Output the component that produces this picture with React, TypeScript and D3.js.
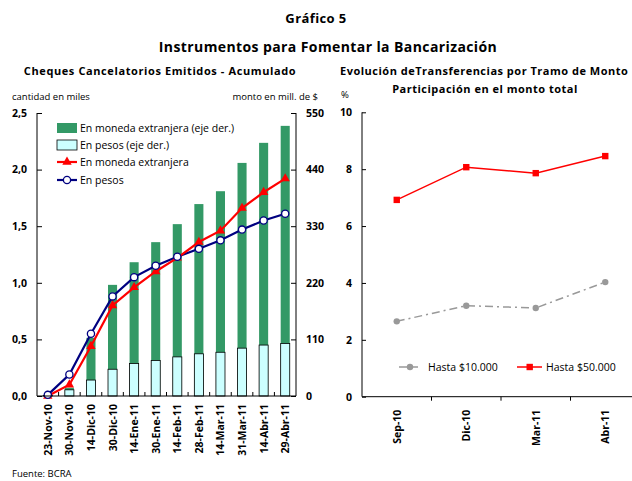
import React, { useEffect, useRef } from 'react';
import * as d3 from 'd3';

// Left panel: cheques cancelatorios (acumulado)
const fechas = ['23-Nov-10', '30-Nov-10', '14-Dic-10', '30-Dic-10', '14-Ene-11', '30-Ene-11',
  '14-Feb-11', '28-Feb-11', '14-Mar-11', '31-Mar-11', '14-Abr-11', '29-Abr-11'];
const montoExtranjera = [2, 16, 113, 216, 260, 299, 334, 373, 398, 453, 492, 525];
const montoPesos = [1, 12, 31, 52, 63, 69, 76, 82, 85, 93, 99, 102];
const cantExtranjera = [0, 0.10, 0.44, 0.80, 0.96, 1.10, 1.22, 1.36, 1.46, 1.66, 1.80, 1.92];
const cantPesos = [0.01, 0.19, 0.55, 0.88, 1.05, 1.15, 1.23, 1.30, 1.375, 1.47, 1.55, 1.61];
const leftTicks = [0, 0.5, 1, 1.5, 2, 2.5];
const rightTicks = [0, 110, 220, 330, 440, 550];

// Right panel: transferencias por tramo
const meses = ['Sep-10', 'Dic-10', 'Mar-11', 'Abr-11'];
const hasta10000 = [2.65, 3.2, 3.12, 4.03];
const hasta50000 = [6.92, 8.07, 7.86, 8.46];
const pctTicks = [0, 2, 4, 6, 8, 10];

const FONT = '"Open Sans", Lato, sans-serif';

const App: React.FC = () => {
  const svgRef = useRef<SVGSVGElement>(null);

  useEffect(() => {
    if (!svgRef.current) return;
    const svg = d3.select(svgRef.current);
    svg.selectAll('*').remove();
    svg.style('font-family', FONT);

    const txt = (x: number, y: number, s: string, size: number, weight = 'normal', anchor = 'start', ls = 0) =>
      svg.append('text').attr('x', x).attr('y', y).attr('font-size', size)
        .attr('font-weight', weight).attr('text-anchor', anchor).attr('fill', '#000')
        .attr('letter-spacing', ls).text(s);

    // Titles
    txt(316, 23, 'Gráfico 5', 13, 'bold', 'middle', 0.4);
    txt(328, 52, 'Instrumentos para Fomentar la Bancarización', 14, 'bold', 'middle', 0.4);
    txt(160, 75, 'Cheques Cancelatorios Emitidos - Acumulado', 11, 'bold', 'middle', 0.6);
    txt(340, 75, 'Evolución deTransferencias por Tramo de Monto', 11, 'bold', 'start', 0.5);
    txt(485, 93, 'Participación en el monto total', 11, 'bold', 'middle', 0.5);
    txt(12, 100, 'cantidad en miles', 9.5, 'normal', 'start');
    txt(318, 100, 'monto en mill. de $', 9.5, 'normal', 'end');
    txt(12, 477, 'Fuente: BCRA', 9.5, 'normal', 'start');

    // ---------- Left chart ----------
    const L = { left: 37, right: 296, top: 113, bottom: 396 };
    const x = d3.scaleBand<string>().domain(fechas).range([L.left, L.right])
      .paddingInner(0.58).paddingOuter(0.29);
    const yL = d3.scaleLinear().domain([0, 2.5]).range([L.bottom, L.top]);
    const yR = d3.scaleLinear().domain([0, 550]).range([L.bottom, L.top]);
    const cx = (d: string) => (x(d) || 0) + x.bandwidth() / 2;

    const gl = svg.append('g');
    gl.selectAll('.bar-ext').data(fechas).enter().append('rect')
      .attr('x', d => x(d) || 0).attr('width', x.bandwidth())
      .attr('y', (d, i) => yR(montoExtranjera[i]))
      .attr('height', (d, i) => L.bottom - yR(montoExtranjera[i]))
      .attr('fill', '#339966');
    gl.selectAll('.bar-pes').data(fechas).enter().append('rect')
      .attr('x', d => x(d) || 0).attr('width', x.bandwidth())
      .attr('y', (d, i) => yR(montoPesos[i]))
      .attr('height', (d, i) => L.bottom - yR(montoPesos[i]))
      .attr('fill', '#ccffff').attr('stroke', '#000').attr('stroke-width', 0.8);

    const lineL = (vals: number[]) => d3.line<string>().x(d => cx(d)).y((d, i) => yL(vals[i]))(fechas);
    gl.append('path').attr('d', lineL(cantPesos)).attr('fill', 'none')
      .attr('stroke', '#000080').attr('stroke-width', 2.2);
    gl.append('path').attr('d', lineL(cantExtranjera)).attr('fill', 'none')
      .attr('stroke', '#ff0000').attr('stroke-width', 2.2);
    const tri = d3.symbol().type(d3.symbolTriangle).size(38);
    gl.selectAll('.tri').data(fechas).enter().append('path')
      .attr('d', tri).attr('fill', '#ff0000')
      .attr('transform', (d, i) => `translate(${cx(d)},${yL(cantExtranjera[i])})`);
    gl.selectAll('.circ').data(fechas).enter().append('circle')
      .attr('cx', d => cx(d)).attr('cy', (d, i) => yL(cantPesos[i])).attr('r', 3.6)
      .attr('fill', '#fff').attr('stroke', '#000080').attr('stroke-width', 1.3);

    // Axes
    const axL = gl.append('g').attr('transform', `translate(${L.left},0)`)
      .call(d3.axisRight(yL).tickValues(leftTicks).tickSize(5).tickFormat(d => d3.format('.1f')(d as number).replace('.', ',')));
    axL.select('.domain').remove();
    axL.selectAll('text').attr('x', -10).attr('text-anchor', 'end');
    const axR = gl.append('g').attr('transform', `translate(${L.right},0)`)
      .call(d3.axisLeft(yR).tickValues(rightTicks).tickSize(5));
    axR.select('.domain').remove();
    axR.selectAll('text').attr('x', 10).attr('text-anchor', 'start');
    [axL, axR].forEach(a => {
      a.selectAll('text').attr('font-size', 10.5).attr('font-weight', 'bold').attr('font-family', FONT).attr('fill', '#000');
      a.selectAll('line').attr('stroke', '#000');
    });
    gl.append('path')
      .attr('d', `M${L.left},${L.top}V${L.bottom}H${L.right}V${L.top}`)
      .attr('fill', 'none').attr('stroke', '#000').attr('stroke-width', 1);
    // category boundary ticks
    gl.selectAll('.xtick').data(fechas.slice(1)).enter().append('line')
      .attr('x1', d => x(d)! - x.step() * x.paddingInner() / 2)
      .attr('x2', d => x(d)! - x.step() * x.paddingInner() / 2)
      .attr('y1', L.bottom).attr('y2', L.bottom - 4).attr('stroke', '#000');
    gl.selectAll('.xlab').data(fechas).enter().append('text')
      .attr('transform', d => `translate(${cx(d) + 4},${L.bottom + 8}) rotate(-90)`)
      .attr('text-anchor', 'end').attr('font-size', 10.5).attr('font-weight', 'bold').text(d => d);

    // Legend
    const lg = gl.append('g');
    const ly = [128, 145, 162, 180];
    lg.append('rect').attr('x', 57).attr('y', ly[0] - 5).attr('width', 20).attr('height', 10).attr('fill', '#339966');
    lg.append('rect').attr('x', 57).attr('y', ly[1] - 5).attr('width', 20).attr('height', 10)
      .attr('fill', '#ccffff').attr('stroke', '#000').attr('stroke-width', 0.8);
    lg.append('line').attr('x1', 57).attr('x2', 77).attr('y1', ly[2]).attr('y2', ly[2]).attr('stroke', '#ff0000').attr('stroke-width', 2.2);
    lg.append('path').attr('d', tri).attr('fill', '#ff0000').attr('transform', `translate(67,${ly[2]})`);
    lg.append('line').attr('x1', 57).attr('x2', 77).attr('y1', ly[3]).attr('y2', ly[3]).attr('stroke', '#000080').attr('stroke-width', 2.2);
    lg.append('circle').attr('cx', 67).attr('cy', ly[3]).attr('r', 3.6).attr('fill', '#fff').attr('stroke', '#000080').attr('stroke-width', 1.3);
    const legL = ['En moneda extranjera (eje der.)', 'En pesos (eje der.)', 'En moneda extranjera', 'En pesos'];
    legL.forEach((s, i) => lg.append('text').attr('x', 80).attr('y', ly[i] + 4).attr('font-size', 10.5).text(s));

    // ---------- Right chart ----------
    const R = { left: 362, right: 640, top: 112.3, bottom: 396.7 };
    const xr = d3.scaleBand<string>().domain(meses).range([R.left, R.right]);
    const yr = d3.scaleLinear().domain([0, 10]).range([R.bottom, R.top]);
    const cxr = (d: string) => (xr(d) || 0) + xr.bandwidth() / 2;
    const gr = svg.append('g');

    const axY = gr.append('g').attr('transform', `translate(${R.left},0)`)
      .call(d3.axisRight(yr).tickValues(pctTicks).tickSize(4));
    axY.select('.domain').remove();
    axY.selectAll('text').attr('x', -10).attr('text-anchor', 'end').attr('font-size', 10.5)
      .attr('font-weight', 'bold').attr('font-family', FONT).attr('fill', '#000');
    axY.selectAll('line').attr('stroke', '#000');
    gr.append('path').attr('d', `M${R.left},${R.top}V${R.bottom}H${R.right}`)
      .attr('fill', 'none').attr('stroke', '#000');
    gr.selectAll('.xt').data(meses.slice(1)).enter().append('line')
      .attr('x1', d => xr(d)!).attr('x2', d => xr(d)!)
      .attr('y1', R.bottom).attr('y2', R.bottom + 4).attr('stroke', '#000');
    gr.selectAll('.xl').data(meses).enter().append('text')
      .attr('transform', d => `translate(${cxr(d) + 4},${R.bottom + 13}) rotate(-90)`)
      .attr('text-anchor', 'end').attr('font-size', 10.5).attr('font-weight', 'bold').text(d => d);
    txt(345, 98, '%', 9.5, 'normal', 'middle');

    const lineR = (vals: number[]) => d3.line<string>().x(d => cxr(d)).y((d, i) => yr(vals[i]))(meses);
    gr.append('path').attr('d', lineR(hasta10000)).attr('fill', 'none')
      .attr('stroke', '#999999').attr('stroke-width', 1.5).attr('stroke-dasharray', '8,4,2,4');
    gr.selectAll('.gc').data(meses).enter().append('circle')
      .attr('cx', d => cxr(d)).attr('cy', (d, i) => yr(hasta10000[i])).attr('r', 3.2).attr('fill', '#999999');
    gr.append('path').attr('d', lineR(hasta50000)).attr('fill', 'none')
      .attr('stroke', '#ff0000').attr('stroke-width', 1.5);
    gr.selectAll('.rs').data(meses).enter().append('rect')
      .attr('x', d => cxr(d) - 3.2).attr('y', (d, i) => yr(hasta50000[i]) - 3.2)
      .attr('width', 6.4).attr('height', 6.4).attr('fill', '#ff0000');

    // Legend right
    const lyR = 367;
    gr.append('line').attr('x1', 399).attr('x2', 421).attr('y1', lyR).attr('y2', lyR)
      .attr('stroke', '#999999').attr('stroke-width', 1.5).attr('stroke-dasharray', '8,3');
    gr.append('circle').attr('cx', 410).attr('cy', lyR).attr('r', 3.2).attr('fill', '#999999');
    txt(428, lyR + 4, 'Hasta $10.000', 10.5);
    gr.append('line').attr('x1', 517).attr('x2', 542).attr('y1', lyR).attr('y2', lyR)
      .attr('stroke', '#ff0000').attr('stroke-width', 1.5);
    gr.append('rect').attr('x', 526.5).attr('y', lyR - 3.2).attr('width', 6.4).attr('height', 6.4).attr('fill', '#ff0000');
    txt(546, lyR + 4, 'Hasta $50.000', 10.5);
  }, []);

  return (
    <svg ref={svgRef} width={632} height={481}
      style={{ position: 'absolute', left: 0, top: 0, background: '#fff' }} />
  );
};

export default App;
